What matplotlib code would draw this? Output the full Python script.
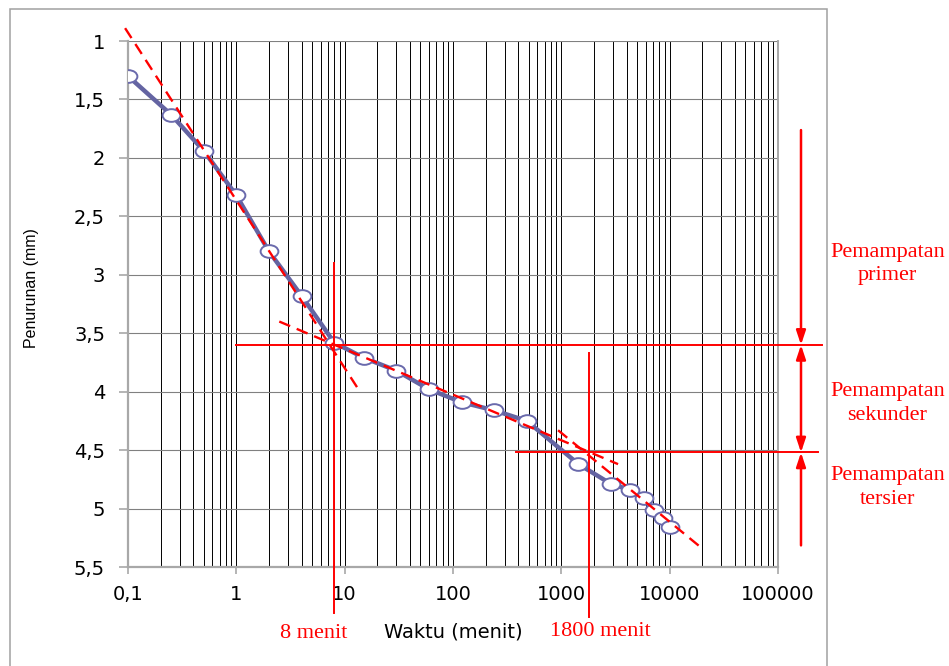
import matplotlib
matplotlib.use("Agg")
import matplotlib.pyplot as plt
from matplotlib.path import Path
from matplotlib.transforms import Affine2D
from matplotlib.patches import Rectangle
from matplotlib.ticker import FixedLocator, LogLocator, NullFormatter

# ---------------- data ----------------
waktu = [0.1, 0.25, 0.5, 1, 2, 4, 8, 15, 30, 60, 120, 240, 480,
         1440, 2880, 4320, 5760, 7200, 8640, 10080]
penurunan = [1.30, 1.63, 1.94, 2.32, 2.80, 3.18, 3.58, 3.71, 3.82, 3.98,
             4.09, 4.16, 4.25, 4.62, 4.79, 4.84, 4.91, 5.01, 5.08, 5.16]

tangent_a_x = [0.094, 13.4]
tangent_a_y = [0.89, 3.98]
tangent_b_x = [2.49, 3340]
tangent_b_y = [3.40, 4.62]
tangent_c_x = [933, 18700]
tangent_c_y = [4.33, 5.32]

t_primer = 8        # menit
t_sekunder = 1800   # menit
y_primer = 3.60
y_sekunder = 4.52

x_ticks = [0.1, 1, 10, 100, 1000, 10000, 100000]
x_tick_labels = ["0,1", "1", "10", "100", "1000", "10000", "100000"]
y_ticks = [1, 1.5, 2, 2.5, 3, 3.5, 4, 4.5, 5, 5.5]
y_tick_labels = ["1", "1,5", "2", "2,5", "3", "3,5", "4", "4,5", "5", "5,5"]

# ---------------- figure ----------------
W, H = 949, 666
fig = plt.figure(figsize=(W / 100, H / 100), dpi=100)


def fx(px):
    return px / W


def fy(py):
    return 1 - py / H


ax = fig.add_axes([fx(128), fy(567), fx(778) - fx(128), fy(41) - fy(567)])
ax.set_xscale("log")
ax.set_xlim(0.1, 100000)
ax.set_ylim(5.5, 1)
ax.set_axisbelow(True)

# grid
ax.xaxis.set_major_locator(FixedLocator(x_ticks))
ax.xaxis.set_minor_locator(LogLocator(base=10, subs=range(2, 10), numticks=20))
ax.xaxis.set_minor_formatter(NullFormatter())
ax.set_xticks(x_ticks)
ax.set_xticklabels(x_tick_labels)
ax.set_yticks(y_ticks)
ax.set_yticklabels(y_tick_labels)
ax.grid(which="major", axis="x", color="black", lw=0.7)
ax.grid(which="minor", axis="x", color="black", lw=0.7)
ax.grid(which="major", axis="y", color="#808080", lw=0.8)

for s in ["top", "right"]:
    ax.spines[s].set_visible(False)
for s in ["left", "bottom"]:
    ax.spines[s].set_color("#a8a8a8")
    ax.spines[s].set_linewidth(1.6)
ax.axvline(100000, color="#a8a8a8", lw=1.4, clip_on=False)

ax.tick_params(axis="x", which="major", length=5, width=1.2, color="#a8a8a8",
               pad=8, labelsize=14, direction="out")
ax.tick_params(axis="x", which="minor", length=0)
ax.tick_params(axis="y", which="major", length=6.5, width=1.2, color="#a8a8a8",
               pad=10, labelsize=14, direction="out")
for lab in ax.get_xticklabels() + ax.get_yticklabels():
    lab.set_fontfamily("DejaVu Sans")

ax.set_xlabel("Waktu (menit)", fontsize=14, family="DejaVu Sans", va="center")
ax.xaxis.set_label_coords(0.5, (567 - 632) / 526)
ax.set_ylabel("Penurunan (mm)", fontsize=11.5, family="Liberation Sans", va="center")
ax.yaxis.set_label_coords((31.7 - 128) / 650, (567 - 288.3) / 526)

# ---------------- series ----------------
ellipse = Path.unit_circle().transformed(Affine2D().scale(1.4, 1.0))
ax.plot(waktu, penurunan, color="#6464a2", lw=3.2, zorder=3,
        marker=ellipse, markersize=12.8, markerfacecolor="white",
        markeredgecolor="#6a6aac", markeredgewidth=1.4)

dash = (0, (5, 3))
for xs, ys in [(tangent_a_x, tangent_a_y), (tangent_b_x, tangent_b_y),
               (tangent_c_x, tangent_c_y)]:
    ax.plot(xs, ys, color="red", lw=1.7, linestyle=dash, zorder=4, clip_on=False)

# construction lines
ax.plot([t_primer, t_primer], [2.90, 5.89], color="red", lw=1.4, zorder=4, clip_on=False)
ax.plot([t_sekunder, t_sekunder], [3.67, 5.93], color="red", lw=1.4, zorder=4, clip_on=False)
ax.plot([1.0, 255900], [y_primer, y_primer], color="red", lw=1.4, zorder=4, clip_on=False)
ax.plot([383, 235000], [y_sekunder, y_sekunder], color="red", lw=1.4, zorder=4, clip_on=False)

# arrows on the right
ax_x = fx(801)
coords = ("figure fraction", "data")
style_one = "-|>,head_length=0.6,head_width=0.2"
style_two = "<|-|>,head_length=0.6,head_width=0.2"
ax.annotate("", xy=(ax_x, y_primer), xytext=(ax_x, 1.762), xycoords=coords,
            textcoords=coords, annotation_clip=False,
            arrowprops=dict(arrowstyle=style_one, color="red", lw=1.8,
                            mutation_scale=14, shrinkA=0, shrinkB=0))
ax.annotate("", xy=(ax_x, y_sekunder), xytext=(ax_x, y_primer), xycoords=coords,
            textcoords=coords, annotation_clip=False,
            arrowprops=dict(arrowstyle=style_two, color="red", lw=1.8,
                            mutation_scale=14, shrinkA=0, shrinkB=0))
ax.annotate("", xy=(ax_x, y_sekunder), xytext=(ax_x, 5.315), xycoords=coords,
            textcoords=coords, annotation_clip=False,
            arrowprops=dict(arrowstyle=style_one, color="red", lw=1.8,
                            mutation_scale=14, shrinkA=0, shrinkB=0))

red_font = dict(color="red", family="Liberation Serif", fontsize=16,
                ha="center", va="center", linespacing=1.3)
fig.text(fx(887.5), fy(264), "Pemampatan\nprimer", **red_font)
fig.text(fx(887.5), fy(403.5), "Pemampatan\nsekunder", **red_font)
fig.text(fx(887.5), fy(487.5), "Pemampatan\ntersier", **red_font)
fig.text(fx(314), fy(633), "8 menit", **red_font)
fig.text(fx(600.5), fy(631), "1800 menit", **red_font)

# outer chart frame
fig.patches.append(Rectangle((fx(10), fy(672)), fx(827) - fx(10), fy(9) - fy(672),
                             transform=fig.transFigure, fill=False,
                             edgecolor="#a0a0a0", lw=1.1, zorder=0))

fig.savefig("out.png", dpi=100)
